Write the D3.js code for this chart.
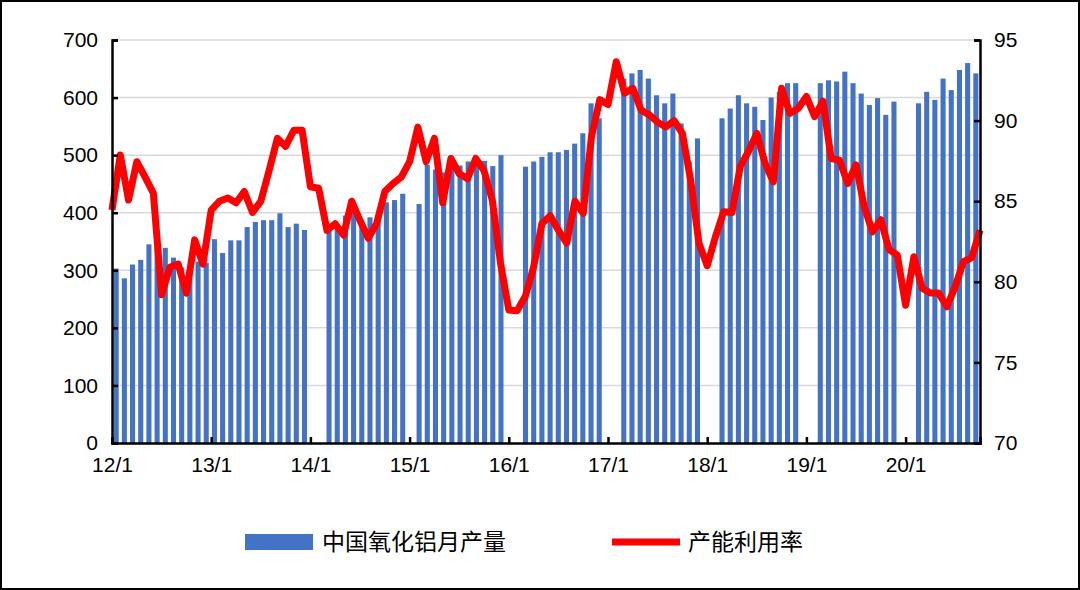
<!DOCTYPE html>
<html>
<head>
<meta charset="utf-8">
<script src="https://cdn.jsdelivr.net/npm/d3@7"></script>
<style>
  body { margin: 0; background: #fff; }
  svg { display: block; font-family: "Noto Sans CJK SC", "Noto Sans", sans-serif; }
</style>
</head>
<body>
<div id="chart"></div>
<script>
// 月度数据 2012/1 - 2020/10
const years = ["12", "13", "14", "15", "16", "17", "18", "19", "20"];
const output = [
  303, 286, 310, 318, 345, 354, 339, 322, 305, 300, 315, 313,
  354, 330, 352, 352, 375, 384, 387, 387, 399, 375, 381, 370,
  null, null, 370, 372, 395, 400, 385, 392, 395, 418, 422, 433,
  null, 415, 483, 475, 470, 482, 482, 489, 489, 490, 481, 500,
  null, null, 480, 489, 497, 505, 505, 509, 520, 538, 590, 564,
  null, null, 633, 642, 648, 633, 604, 590, 607, 555, 489, 529,
  null, null, 564, 581, 604, 590, 584, 561, 600, 610, 625, 625,
  null, null, 625, 630, 628, 645, 625, 607, 587, 599, 570, 593,
  null, null, 590, 610, 596, 633, 613, 648, 660, 642
];
const utilization = [
  84.45, 87.87, 85.07, 87.45, 86.5, 85.5, 79.2, 80.9, 81.1, 79.3, 82.6, 81.1,
  84.45, 85.0, 85.2, 84.9, 85.6, 84.3, 85.0, 86.9, 88.9, 88.4, 89.4, 89.4,
  85.9, 85.8, 83.2, 83.6, 82.9, 85.0, 83.8, 82.7, 83.6, 85.6, 86.1, 86.5,
  87.45, 89.6, 87.45, 88.9, 84.9, 87.65, 86.7, 86.4, 87.65, 86.9, 85.07, 81.15,
  78.25, 78.2, 79.1, 80.9, 83.6, 84.1, 83.2, 82.4, 85.0, 84.25, 89.0, 91.3,
  91.0, 93.65, 91.7, 92.0, 90.65, 90.35, 89.9, 89.6, 90.0, 89.2, 86.3, 82.4,
  81.0, 82.8, 84.35, 84.3, 87.15, 88.1, 89.2, 87.35, 86.2, 92.0, 90.45, 90.75,
  91.5, 90.25, 91.2, 87.65, 87.55, 86.1, 87.25, 84.65, 83.1, 83.85, 82.0, 81.65,
  78.55, 81.55, 79.6, 79.3, 79.3, 78.45, 79.7, 81.25, 81.5, 83.2
];
const leftTicks = [0, 100, 200, 300, 400, 500, 600, 700];
const rightTicks = [70, 75, 80, 85, 90, 95];

const months = output.map((d, i) => years[Math.floor(i / 12)] + "/" + (i % 12 + 1));

const W = 1080, H = 590;
const m = { left: 112, right: 100, top: 40, bottom: 147 };

const svg = d3.select("#chart").append("svg").attr("width", W).attr("height", H);

svg.append("rect").attr("x", 1).attr("y", 1).attr("width", W - 2).attr("height", H - 2)
  .attr("fill", "#fff").attr("stroke", "#000").attr("stroke-width", 2);

const x = d3.scaleBand().domain(months).range([m.left, W - m.right]).paddingInner(0.38).paddingOuter(0.2);
const xLine = d3.scalePoint().domain(months).range([m.left, W - m.right]);
const y = d3.scaleLinear().domain([0, 700]).range([H - m.bottom, m.top]);
const y2 = d3.scaleLinear().domain([70, 95]).range([H - m.bottom, m.top]);

// grid
svg.append("g").selectAll("line").data(leftTicks.slice(1)).enter().append("line")
  .attr("x1", m.left).attr("x2", W - m.right)
  .attr("y1", d => y(d)).attr("y2", d => y(d))
  .attr("stroke", "#d9d9d9").attr("stroke-width", 1.5);

// bars
svg.append("g").selectAll("rect")
  .data(output.map((v, i) => ({ m: months[i], v })).filter(d => d.v != null))
  .enter().append("rect")
  .attr("x", d => x(d.m)).attr("width", x.bandwidth())
  .attr("y", d => y(d.v)).attr("height", d => y(0) - y(d.v))
  .attr("fill", "#4472c4");

// line
svg.append("path")
  .datum(utilization)
  .attr("fill", "none").attr("stroke", "#ff0000").attr("stroke-width", 7)
  .attr("stroke-linejoin", "round")
  .attr("d", d3.line().x((d, i) => xLine(months[i])).y(d => y2(d)));

// axes
const axL = svg.append("g").attr("transform", `translate(${m.left},0)`)
  .call(d3.axisLeft(y).tickValues(leftTicks).tickSize(-6).tickPadding(14));
const axR = svg.append("g").attr("transform", `translate(${W - m.right},0)`)
  .call(d3.axisRight(y2).tickValues(rightTicks).tickSize(-6).tickPadding(14));
const yearTicks = months.filter(d => d.endsWith("/1"));
const axB = svg.append("g").attr("transform", `translate(0,${H - m.bottom})`)
  .call(d3.axisBottom(xLine).tickValues(yearTicks).tickSize(-6).tickPadding(14));

[axL, axR, axB].forEach(a => {
  a.select(".domain").attr("stroke", "#000").attr("stroke-width", 2.5);
  a.selectAll(".tick line").attr("stroke", "#000").attr("stroke-width", 2.5);
  a.selectAll("text").attr("fill", "#000").style("font-size", "21px");
});

// legend
const lg = svg.append("g");
lg.append("rect").attr("x", 245).attr("y", 534).attr("width", 68).attr("height", 16).attr("fill", "#4472c4");
lg.append("text").attr("x", 322).attr("y", 550).text("中国氧化铝月产量").style("font-size", "23px");
lg.append("line").attr("x1", 612).attr("x2", 680).attr("y1", 542).attr("y2", 542)
  .attr("stroke", "#ff0000").attr("stroke-width", 7);
lg.append("text").attr("x", 688).attr("y", 550).text("产能利用率").style("font-size", "23px");
</script>
</body>
</html>
